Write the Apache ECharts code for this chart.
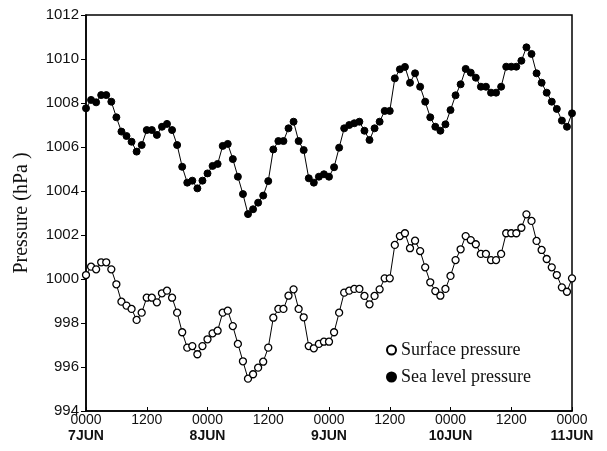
<!DOCTYPE html>
<html>
<head>
<meta charset="utf-8">
<script src="https://cdn.jsdelivr.net/npm/echarts@6/dist/echarts.min.js"></script>
<style>
html,body{margin:0;padding:0;background:#fff;}
#chart{width:607px;height:451px;}
</style>
</head>
<body>
<div id="chart"></div>
<script>
// Hourly observations, hours since 7JUN 0000
const seaLevel = [
 1007.76,1008.14,1008.03,1008.36,1008.36,1008.06,1007.35,1006.70,1006.50,1006.24,
 1005.79,1006.09,1006.77,1006.77,1006.55,1006.92,1007.05,1006.77,1006.09,1005.10,
 1004.38,1004.47,1004.12,1004.47,1004.80,1005.14,1005.23,1006.05,1006.14,1005.45,
 1004.65,1003.86,1002.95,1003.17,1003.47,1003.79,1004.45,1005.89,1006.27,1006.27,
 1006.85,1007.15,1006.27,1005.86,1004.58,1004.38,1004.65,1004.76,1004.65,1005.08,
 1005.97,1006.85,1007.00,1007.08,1007.15,1006.74,1006.32,1006.85,1007.15,1007.64,
 1007.64,1009.12,1009.53,1009.64,1008.92,1009.35,1008.74,1008.06,1007.35,1006.92,
 1006.74,1007.03,1007.68,1008.35,1008.85,1009.55,1009.38,1009.15,1008.74,1008.74,
 1008.47,1008.47,1008.74,1009.65,1009.65,1009.65,1009.92,1010.53,1010.23,1009.35,
 1008.92,1008.47,1008.06,1007.73,1007.20,1006.92,1007.53
];
const surface = [
 1000.18,1000.56,1000.44,1000.76,1000.76,1000.44,999.76,998.97,998.79,998.64,
 998.14,998.47,999.15,999.15,998.94,999.35,999.47,999.15,998.47,997.58,
 996.88,996.95,996.58,996.95,997.26,997.53,997.65,998.47,998.56,997.86,
 997.05,996.26,995.47,995.67,995.97,996.24,996.88,998.24,998.64,998.64,
 999.24,999.53,998.64,998.26,996.95,996.85,997.05,997.15,997.15,997.58,
 998.47,999.38,999.47,999.55,999.55,999.23,998.85,999.23,999.53,1000.03,
 1000.03,1001.55,1001.95,1002.08,1001.40,1001.74,1001.27,1000.53,999.85,999.45,
 999.24,999.55,1000.14,1000.86,1001.35,1001.95,1001.77,1001.58,1001.14,1001.14,
 1000.86,1000.86,1001.14,1002.08,1002.08,1002.08,1002.33,1002.94,1002.64,1001.73,
 1001.32,1000.91,1000.53,1000.18,999.62,999.42,1000.03
];
const timeLabels = ['0000','1200','0000','1200','0000','1200','0000','1200','0000'];
const dayLabels  = ['7JUN','','8JUN','','9JUN','','10JUN','','11JUN'];
const seriesNames = ['Surface pressure','Sea level pressure'];

const toPairs = arr => arr.map((v, i) => [i, v]);

const chart = echarts.init(document.getElementById('chart'), null, {renderer:'canvas'});
chart.setOption({
  animation: false,
  backgroundColor: '#fff',
  grid: {left: 86, right: 35, top: 15, bottom: 40, show: true, borderColor: '#000', borderWidth: 1.5, backgroundColor: 'transparent'},
  xAxis: {
    type: 'value', min: 0, max: 96, interval: 12,
    axisLine: {lineStyle: {color: '#000', width: 1.5}},
    axisTick: {show: true, inside: true, length: 4, lineStyle: {color: '#000'}},
    splitLine: {show: false},
    axisLabel: {
      margin: 2,
      formatter: v => {
        const k = Math.round(v / 12);
        const d = dayLabels[k];
        return '{t|' + timeLabels[k] + '}\n{d|' + (d || ' ') + '}';
      },
      rich: {
        t: {fontFamily: 'Liberation Sans', fontSize: 14, color: '#111', lineHeight: 15},
        d: {fontFamily: 'Liberation Sans', fontSize: 14, fontWeight: 'bold', color: '#111', lineHeight: 17}
      }
    }
  },
  yAxis: {
    type: 'value', min: 994, max: 1012, interval: 2,
    name: 'Pressure (hPa )', nameLocation: 'middle', nameGap: 54,
    nameTextStyle: {fontFamily: 'Liberation Serif', fontSize: 20, color: '#111'},
    axisLine: {show: true, lineStyle: {color: '#000', width: 1.5}},
    axisTick: {show: true, length: 5, lineStyle: {color: '#000'}},
    splitLine: {show: false},
    axisLabel: {margin: 7, fontFamily: 'Liberation Sans', fontSize: 15, color: '#111', formatter: v => String(v)}
  },
  legend: {
    orient: 'vertical', left: 381, top: 336, itemGap: 9,
    icon: 'circle', itemWidth: 9, itemHeight: 9,
    textStyle: {fontFamily: 'Liberation Serif', fontSize: 18, color: '#111'},
    data: seriesNames
  },
  series: [
    {
      name: seriesNames[0], type: 'line', data: toPairs(surface),
      symbol: 'circle', symbolSize: 7, showAllSymbol: true,
      lineStyle: {color: '#000', width: 1},
      itemStyle: {color: '#fff', borderColor: '#000', borderWidth: 1.3}
    },
    {
      name: seriesNames[1], type: 'line', data: toPairs(seaLevel),
      symbol: 'circle', symbolSize: 7, showAllSymbol: true,
      lineStyle: {color: '#000', width: 1},
      itemStyle: {color: '#000', borderColor: '#000', borderWidth: 1}
    }
  ]
});
</script>
</body>
</html>
